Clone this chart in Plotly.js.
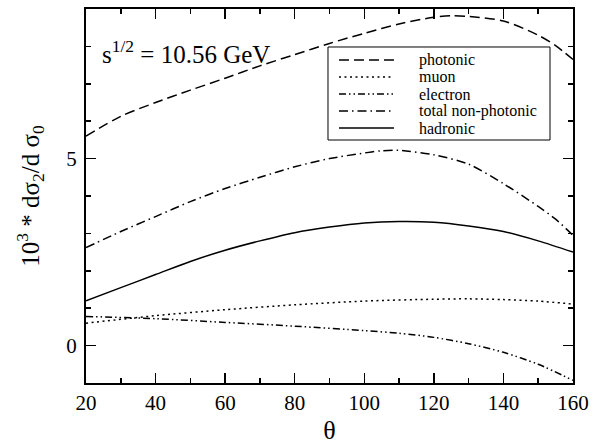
<!DOCTYPE html>
<html>
<head>
<meta charset="utf-8">
<script src="https://cdn.plot.ly/plotly-3.0.1.min.js"></script>
<style>
html,body{margin:0;padding:0;background:#fff}
#chart{width:597px;height:445px}
</style>
</head>
<body>
<div id="chart"></div>
<script>
// theta (degrees)
const thetaPhotonic = [20, 30, 40, 50, 60, 70, 80, 90, 100, 110, 120, 125, 130, 140, 150, 155, 160];
const photonic      = [5.60, 6.13, 6.50, 6.83, 7.15, 7.48, 7.78, 8.08, 8.35, 8.60, 8.78, 8.82, 8.80, 8.68, 8.30, 8.02, 7.65];

const thetaMuon = [20, 40, 60, 80, 100, 120, 130, 140, 150, 160];
const muon      = [0.60, 0.80, 0.96, 1.09, 1.19, 1.24, 1.25, 1.23, 1.19, 1.11];

const thetaElectron = [20, 40, 60, 80, 100, 110, 120, 130, 140, 150, 160];
const electron      = [0.78, 0.72, 0.62, 0.52, 0.40, 0.33, 0.22, 0.05, -0.18, -0.50, -0.93];

const thetaTotal = [20, 30, 40, 50, 60, 70, 80, 90, 100, 105, 110, 120, 130, 140, 150, 155, 160];
const totalNonPhotonic = [2.62, 3.05, 3.45, 3.85, 4.20, 4.50, 4.78, 5.00, 5.15, 5.21, 5.22, 5.10, 4.85, 4.33, 3.72, 3.38, 2.95];

const thetaHadronic = [20, 30, 40, 50, 60, 70, 80, 90, 100, 110, 120, 130, 140, 150, 160];
const hadronic      = [1.20, 1.55, 1.90, 2.25, 2.55, 2.80, 3.02, 3.17, 3.28, 3.32, 3.30, 3.20, 3.05, 2.80, 2.50];

const seriesNames = ['photonic', 'muon', 'electron', 'total non-photonic', 'hadronic'];
const seriesDash  = ['10px,5px', '2px,3.5px', '7px,3px,1.5px,3px,1.5px,3px', '9px,4px,1.5px,4px', 'solid'];

const xTicks = [20, 40, 60, 80, 100, 120, 140, 160];
const yTicks = [0, 5];

const serif = 'Liberation Serif';

const xs = [thetaPhotonic, thetaMuon, thetaElectron, thetaTotal, thetaHadronic];
const ys = [photonic, muon, electron, totalNonPhotonic, hadronic];

const data = seriesNames.map((name, i) => ({
  x: xs[i], y: ys[i], name: name, type: 'scatter', mode: 'lines', showlegend: false,
  line: {color: '#000', width: 1.5, dash: seriesDash[i], shape: 'spline', smoothing: 0.8}
}));

// legend box drawn in paper coordinates
const legX0 = 0.4969, legX1 = 0.9528, legY0 = 0.6497, legY1 = 0.8984;
const legLineX0 = 0.5195, legLineX1 = 0.6324, legTextX = 0.6817;
const legRowY = [0.8636, 0.8182, 0.7727, 0.7273, 0.6818];

const shapes = [{type: 'rect', xref: 'paper', yref: 'paper', x0: legX0, x1: legX1, y0: legY0, y1: legY1,
                 line: {color: '#000', width: 1}, fillcolor: 'rgba(0,0,0,0)', layer: 'above'}];
const annotations = [{xref: 'paper', yref: 'paper', x: 0.028, y: 0.885, xanchor: 'left', yanchor: 'middle',
                      text: 's<sup>1/2</sup> = 10.56 GeV', showarrow: false,
                      font: {family: serif, size: 25, color: '#000'}}];
seriesNames.forEach((name, i) => {
  shapes.push({type: 'line', xref: 'paper', yref: 'paper', x0: legLineX0, x1: legLineX1, y0: legRowY[i], y1: legRowY[i],
               line: {color: '#000', width: 1.5, dash: seriesDash[i]}});
  annotations.push({xref: 'paper', yref: 'paper', x: legTextX, y: legRowY[i], xanchor: 'left', yanchor: 'middle',
                    text: name, showarrow: false, borderpad: 0, font: {family: serif, size: 16, color: '#000'}});
});

const layout = {
  width: 597, height: 445,
  margin: {l: 86, r: 24, t: 9, b: 62},
  paper_bgcolor: '#fff', plot_bgcolor: '#fff',
  font: {family: serif, color: '#000', size: 20},
  showlegend: false,
  xaxis: {range: [20, 160], tickvals: xTicks, ticktext: xTicks.map(String),
          ticks: 'inside', ticklen: 10, tickwidth: 1.5, tickcolor: '#000',
          showline: true, linewidth: 2, linecolor: '#000', mirror: 'ticks',
          showgrid: false, zeroline: false,
          minor: {dtick: 10, tick0: 0, ticks: 'inside', ticklen: 5, tickwidth: 1.5, tickcolor: '#000', showgrid: false},
          tickfont: {family: serif, size: 21},
          title: {text: 'θ', font: {family: serif, size: 26}, standoff: 10}},
  yaxis: {range: [-1, 9], tickvals: yTicks, ticktext: yTicks.map(String),
          ticks: 'inside', ticklen: 10, tickwidth: 1.5, tickcolor: '#000',
          showline: true, linewidth: 2, linecolor: '#000', mirror: 'ticks',
          showgrid: false, zeroline: false, ticklabelstandoff: 3,
          minor: {dtick: 1, tick0: 0, ticks: 'inside', ticklen: 5, tickwidth: 1.5, tickcolor: '#000', showgrid: false},
          tickfont: {family: serif, size: 21},
          title: {text: '10<sup>3</sup> * dσ<sub>2</sub>/d σ<sub>0</sub>', font: {family: serif, size: 25}, standoff: 20}},
  shapes: shapes,
  annotations: annotations
};

Plotly.newPlot('chart', data, layout, {displayModeBar: false, staticPlot: true});
</script>
</body>
</html>
